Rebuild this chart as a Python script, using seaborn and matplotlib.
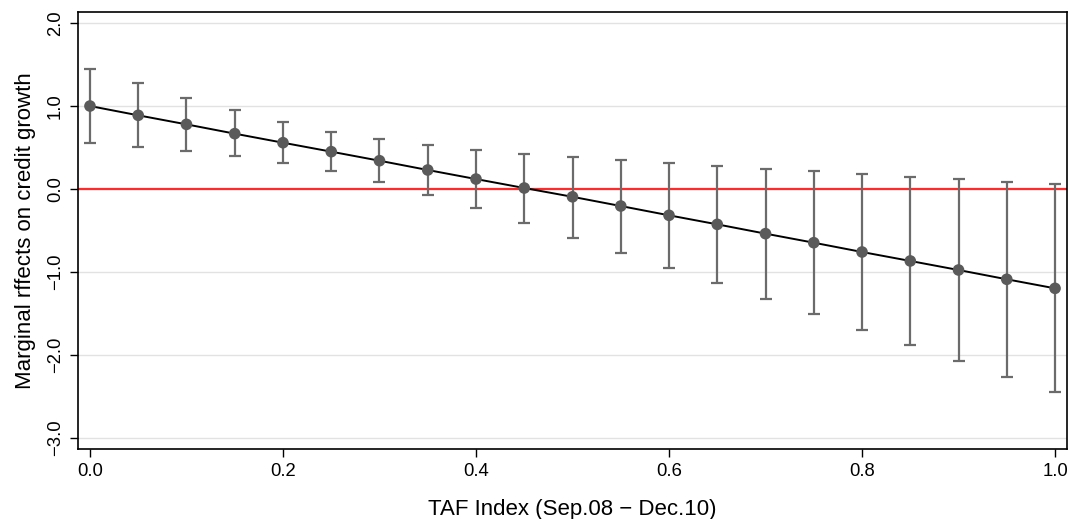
import matplotlib
matplotlib.use("Agg")
import matplotlib.pyplot as plt
import seaborn as sns
import numpy as np
import pandas as pd

taf_index = [0.00, 0.05, 0.10, 0.15, 0.20, 0.25, 0.30, 0.35, 0.40, 0.45, 0.50,
             0.55, 0.60, 0.65, 0.70, 0.75, 0.80, 0.85, 0.90, 0.95, 1.00]
marginal_effect = [1.000, 0.888, 0.779, 0.667, 0.558, 0.450, 0.341, 0.229, 0.120, 0.012, -0.094,
                   -0.205, -0.317, -0.426, -0.538, -0.647, -0.759, -0.867, -0.976, -1.088, -1.197]
upper_ci = [1.446, 1.273, 1.100, 0.948, 0.805, 0.690, 0.598, 0.530, 0.474, 0.426, 0.390,
            0.349, 0.313, 0.281, 0.245, 0.213, 0.181, 0.149, 0.116, 0.084, 0.060]
lower_ci = [0.552, 0.510, 0.458, 0.398, 0.317, 0.213, 0.084, -0.068, -0.233, -0.406, -0.586,
            -0.767, -0.948, -1.137, -1.321, -1.506, -1.695, -1.884, -2.072, -2.261, -2.450]
y_ticks = [2.0, 1.0, 0.0, -1.0, -2.0, -3.0]
x_ticks = [0.0, 0.2, 0.4, 0.6, 0.8, 1.0]

df = pd.DataFrame({"x": taf_index, "y": marginal_effect, "hi": upper_ci, "lo": lower_ci})

sns.set_theme(style="white")
plt.rcParams["font.family"] = ["Liberation Sans", "DejaVu Sans"]

fig, ax = plt.subplots(figsize=(10.70, 5.19), dpi=100)
fig.subplots_adjust(left=78/1070, right=1067/1070, top=1-12/519, bottom=1-449/519)

for t in y_ticks:
    ax.axhline(t, color="#e2e2e2", lw=1.0, zorder=0)
ax.axhline(0.0, color="#ff2a2a", lw=1.6, zorder=1)

ax.errorbar(df["x"], df["y"],
            yerr=[df["y"] - df["lo"], df["hi"] - df["y"]],
            fmt="none", ecolor="#6b6b6b", elinewidth=1.6, capsize=4.5, capthick=1.6, zorder=2)
sns.lineplot(data=df, x="x", y="y", ax=ax, color="black", lw=1.4, zorder=3)
sns.scatterplot(data=df, x="x", y="y", ax=ax, color="#5a5a5a", s=70, edgecolor="none", zorder=4)

ax.set_xlim(-0.0124, 1.0124)
ax.set_ylim(-3.133, 2.133)
ax.set_xticks(x_ticks)
ax.set_xticklabels([f"{v:.1f}" for v in x_ticks])
ax.set_yticks(y_ticks)
ax.set_yticklabels([f"{v:.1f}".replace("-", "\u2212") for v in y_ticks], rotation=90, va="center")
ax.tick_params(axis="both", which="both", direction="out", length=6, width=1.0,
               color="black", labelsize=13.3, labelcolor="black", bottom=True, left=True)
ax.tick_params(axis="x", pad=4)
ax.tick_params(axis="y", pad=4)

for s in ax.spines.values():
    s.set_color("black")
    s.set_linewidth(1.2)

ax.set_xlabel("TAF Index (Sep.08 \u2212 Dec.10)", fontsize=16, color="black", labelpad=14)
ax.set_ylabel("Marginal rffects on credit growth", fontsize=16, color="black", labelpad=8)

fig.savefig("out.png", dpi=100)
